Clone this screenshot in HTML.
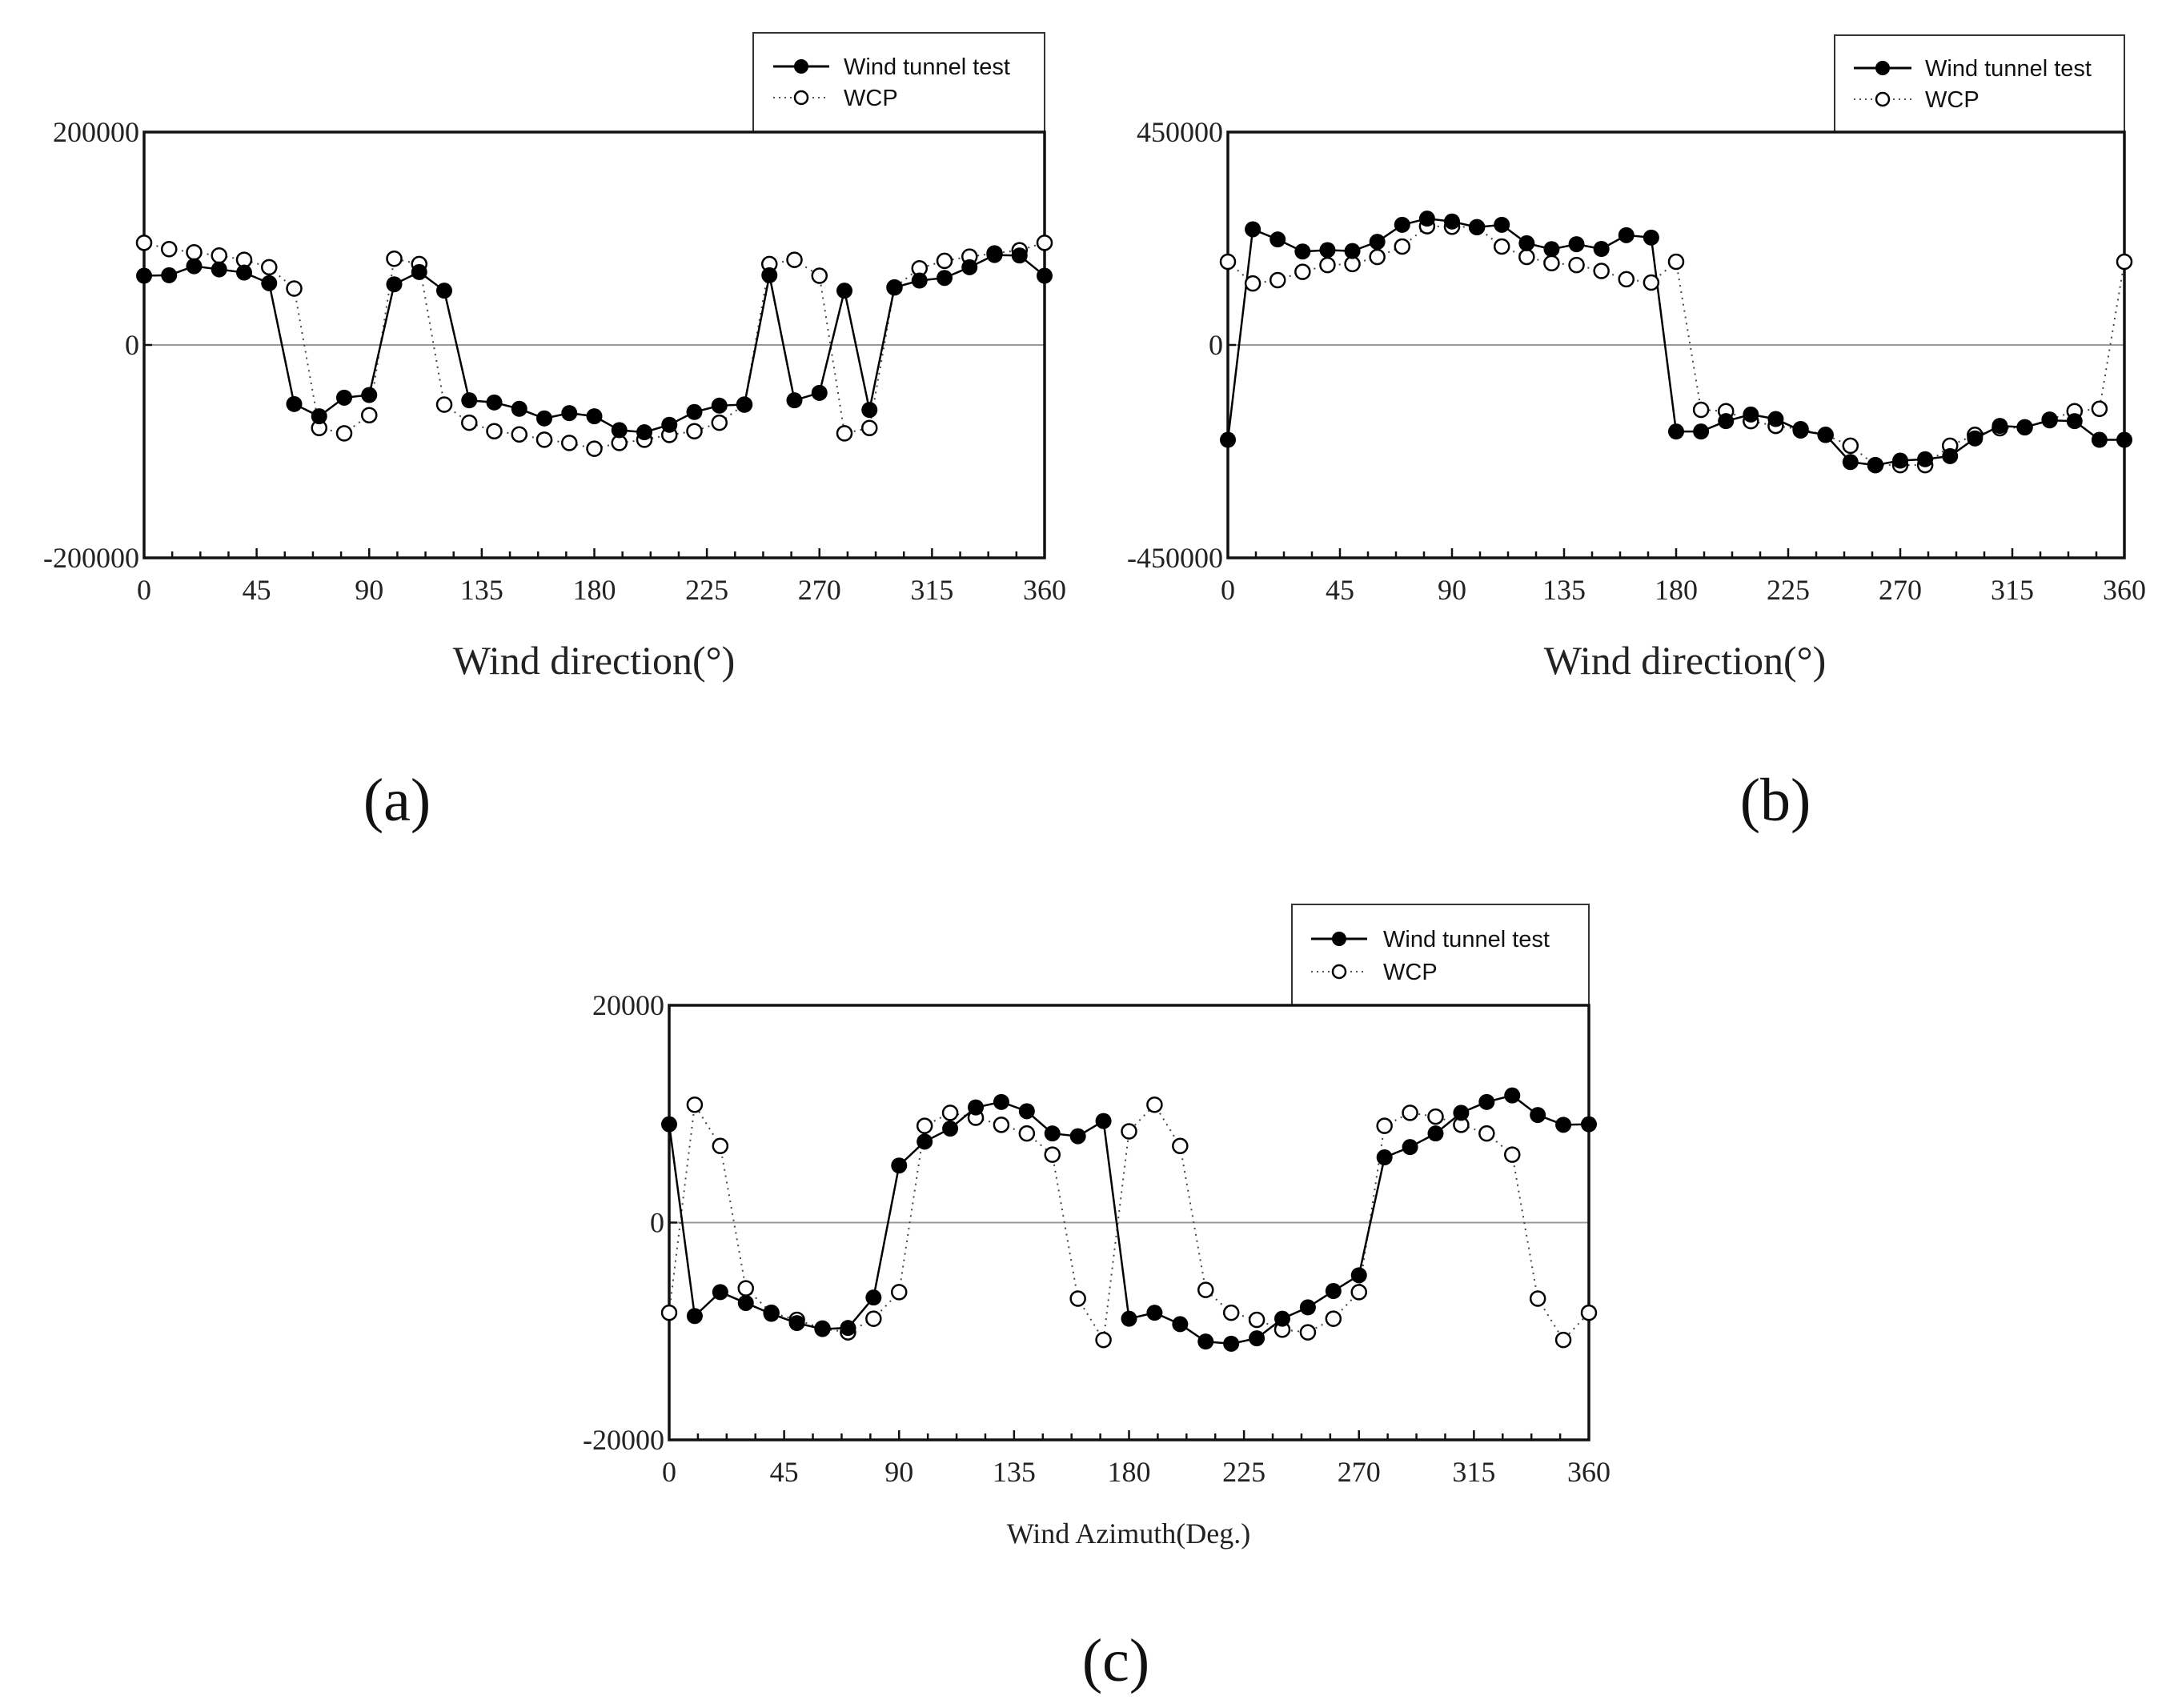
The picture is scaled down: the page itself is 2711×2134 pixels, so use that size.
<!DOCTYPE html>
<html><head><meta charset="utf-8">
<style>
html,body{margin:0;padding:0;background:#fff;}
svg{display:block;}
.tk{font-family:"Liberation Serif",serif;font-size:36px;fill:#222;}
.lg{font-family:"Liberation Sans",sans-serif;font-size:29px;fill:#111;}
</style></head>
<body>
<svg id="fig" width="2711" height="2134" viewBox="0 0 2711 2134" xmlns="http://www.w3.org/2000/svg"></svg>
<script>
const angles = [0,10,20,30,40,50,60,70,80,90,100,110,120,130,140,150,160,170,180,190,200,210,220,230,240,250,260,270,280,290,300,310,320,330,340,350,360];
const xTicks = [0,45,90,135,180,225,270,315,360];

const aTunnel = [65000,65500,74000,71000,68000,58000,-55500,-67000,-49500,-47000,57000,68500,51000,-52000,-54000,-60000,-69000,-64000,-67000,-80000,-82000,-75000,-63000,-57000,-56000,65500,-52000,-45000,51000,-61000,54000,60500,63000,73000,84500,84000,65000];
const aWcp = [96000,90000,87000,84000,80000,73000,53000,-78000,-83000,-66000,81000,76000,-56000,-73000,-81000,-84000,-89000,-92000,-97500,-92000,-89000,-84500,-81000,-73000,-56000,76000,80000,65000,-83000,-78000,54000,72000,79000,83000,86000,89000,96000];
const aYTicks = [200000,0,-200000];

const bTunnel = [-200500,244500,223000,197500,200500,198500,218000,254000,267000,261000,249000,254000,215000,202500,213000,203000,232000,227000,-183000,-183000,-161000,-147000,-156500,-181000,-190000,-247500,-254000,-244500,-241500,-235000,-197500,-171000,-174000,-159500,-161000,-200500,-200500];
const bWcp = [176000,130000,137000,154500,169000,171000,186000,208000,251000,250000,249000,208000,186000,173000,169000,156500,139000,132000,176000,-137000,-140000,-161000,-171000,-178000,-190000,-213000,-254000,-254000,-254000,-213000,-190000,-176000,-174000,-158000,-140000,-135000,176000];
const bYTicks = [450000,0,-450000];

const cTunnel = [9050,-8600,-6400,-7400,-8400,-9250,-9800,-9700,-6900,5250,7450,8650,10600,11100,10250,8200,7950,9350,-8850,-8300,-9350,-10950,-11150,-10650,-8850,-7800,-6300,-4850,6000,6950,8200,10100,11100,11700,9900,9000,9050];
const cWcp = [-8300,10850,7050,-6050,-8300,-8950,-9750,-10100,-8850,-6400,8900,10100,9650,9000,8200,6250,-7000,-10800,8400,10850,7050,-6200,-8300,-8950,-9850,-10100,-8850,-6400,8900,10100,9750,9000,8200,6250,-7000,-10800,-8300];
const cYTicks = [20000,0,-20000];

const NS='http://www.w3.org/2000/svg';
const svg=document.getElementById('fig');
function el(tag,attrs,parent){const e=document.createElementNS(NS,tag);for(const k in attrs)e.setAttribute(k,attrs[k]);(parent||svg).appendChild(e);return e;}
function txt(s,attrs,parent){const e=el('text',attrs,parent);e.textContent=s;return e;}

function drawChart(id,box,yMax,tunnel,wcp,yTicks,leg,xTitle,titleCfg,panel){
  const g=el('g',{});
  
  
  const {L,R,T,B}=box;
  const xs=v=>L+(v/360)*(R-L);
  const ys=v=>T+(yMax-v)/(2*yMax)*(B-T);
  // legend box
  const lb=el('rect',{x:leg.x,y:leg.y,width:R-leg.x,height:T-leg.y,fill:'#fff',stroke:'#333','stroke-width':2},g);
  
  
  const l1=el('g',{},g);
  
  
  el('line',{x1:leg.lx1,x2:leg.lx2,y1:leg.y1,y2:leg.y1,stroke:'#000','stroke-width':3},l1);
  el('circle',{cx:(leg.lx1+leg.lx2)/2,cy:leg.y1,r:9,fill:'#000'},l1);
  txt('Wind tunnel test',{x:leg.tx,y:leg.y1+10,class:'lg'},l1);
  const l2=el('g',{},g);
  
  
  el('line',{x1:leg.lx1,x2:leg.lx2,y1:leg.y2,y2:leg.y2,stroke:'#555','stroke-width':2,'stroke-dasharray':'2 5'},l2);
  el('circle',{cx:(leg.lx1+leg.lx2)/2,cy:leg.y2,r:8,fill:'#fff',stroke:'#000','stroke-width':2.5},l2);
  txt('WCP',{x:leg.tx,y:leg.y2+10,class:'lg'},l2);
  // zero line
  const z=el('line',{x1:L,x2:R,y1:ys(0),y2:ys(0),stroke:'#999','stroke-width':2},g);
  
  
  // frame
  const fr=el('rect',{x:L,y:T,width:R-L,height:B-T,fill:'none',stroke:'#111','stroke-width':3.5},g);
  
  
  // ticks
  for(let i=0;i<=32;i++){
    const v=i*11.25;const x=xs(v);
    el('line',{x1:x,x2:x,y1:B,y2:B-(i%4===0?12:8),stroke:'#111','stroke-width':2.5},g);
  }
  el('line',{x1:L,x2:L+10,y1:ys(0),y2:ys(0),stroke:'#111','stroke-width':2.5},g);
  xTicks.forEach(v=>{
    const t=txt(String(v),{x:xs(v),y:B+52,'text-anchor':'middle',class:'tk'},g);
    
    
  });
  yTicks.forEach(v=>{
    const t=txt(String(v),{x:L-6,y:ys(v)+12,'text-anchor':'end',class:'tk'},g);
    
    
  });
  // series
  const pw=wcp.map((v,i)=>xs(angles[i])+','+ys(v)).join(' ');
  const lw=el('polyline',{points:pw,fill:'none',stroke:'#444','stroke-width':2,'stroke-dasharray':'2 6'},g);
  
  
  const pt=tunnel.map((v,i)=>xs(angles[i])+','+ys(v)).join(' ');
  const lt=el('polyline',{points:pt,fill:'none',stroke:'#000','stroke-width':2.5},g);
  
  
  wcp.forEach((v,i)=>{
    const c=el('circle',{cx:xs(angles[i]),cy:ys(v),r:9,fill:'#fff',stroke:'#000','stroke-width':2.5},g);
    
    
  });
  tunnel.forEach((v,i)=>{
    const c=el('circle',{cx:xs(angles[i]),cy:ys(v),r:10,fill:'#000'},g);
    
    
  });
  const xt=txt(xTitle,{x:titleCfg.x,y:titleCfg.y,'text-anchor':'middle','font-family':'"Liberation Serif",serif','font-size':titleCfg.fs,fill:'#222'},g);
  
  
  const pl=txt(panel.t,{x:panel.x,y:panel.y,'text-anchor':'middle','font-family':'"Liberation Serif",serif','font-size':76,fill:'#111'},g);
  
  
}

drawChart('chart-a',{L:180,R:1305,T:165,B:697},200000,aTunnel,aWcp,aYTicks,
  {x:941,y:41,lx1:966,lx2:1036,y1:83,y2:122,tx:1054},'Wind direction(\u00B0)',{x:742,y:842,fs:50},{t:'(a)',x:496,y:1025});
drawChart('chart-b',{L:1534,R:2654,T:165,B:697},450000,bTunnel,bWcp,bYTicks,
  {x:2292,y:44,lx1:2316,lx2:2388,y1:85,y2:124,tx:2405},'Wind direction(\u00B0)',{x:2105,y:842,fs:50},{t:'(b)',x:2218,y:1025});
drawChart('chart-c',{L:836,R:1985,T:1256,B:1799},20000,cTunnel,cWcp,cYTicks,
  {x:1614,y:1130,lx1:1638,lx2:1708,y1:1173,y2:1214,tx:1728},'Wind Azimuth(Deg.)',{x:1410,y:1928,fs:36},{t:'(c)',x:1394,y:2100});
</script>
</body></html>
